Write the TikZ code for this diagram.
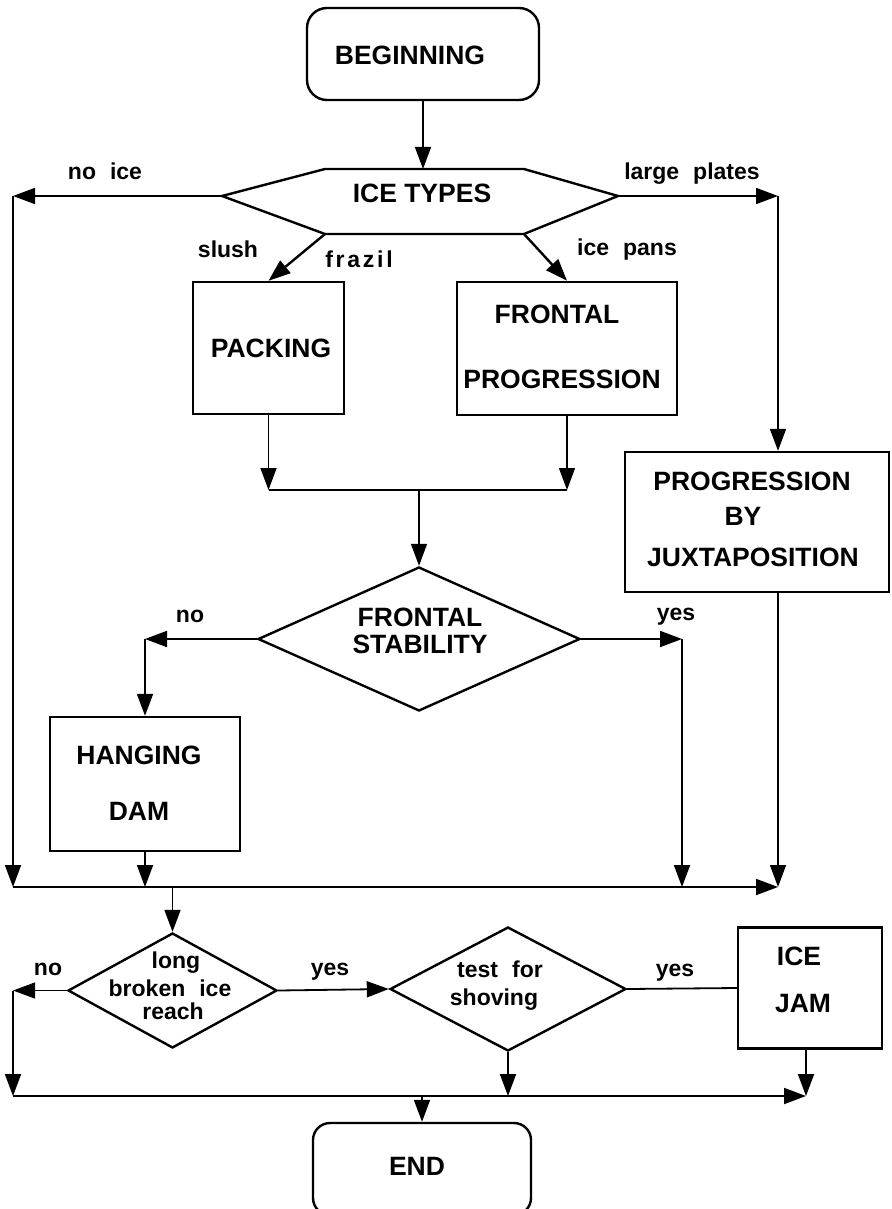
\documentclass[tikz,border=0pt]{standalone}
\usepackage{fontspec}
\setmainfont{Liberation Sans}
\usetikzlibrary{arrows.meta,shapes.geometric}
\newcommand\labfont{\fontsize{23}{27}\selectfont\bfseries\spaceskip 14pt\relax}
\begin{document}
\begin{tikzpicture}[x=1pt,y=-1pt,
  shapeline/.style={line width=2.4pt, line join=miter},
  boxshape/.style={draw, line width=2.4pt, inner sep=0pt},
  roundbox/.style={boxshape, rounded corners=20pt},
  dia/.style={draw, diamond, line width=2.4pt, inner sep=0pt},
  captxt/.style={font=\fontsize{26.5}{30}\selectfont\bfseries, anchor=base, inner sep=0pt},
  lab/.style={font=\labfont, anchor=base, inner sep=0pt},
  conn/.style={line width=1.8pt, -{Triangle[length=22pt,width=16pt]}},
  plain/.style={line width=1.8pt}]
\useasboundingbox (0,0) rectangle (891,1209);

% ---- shapes ----
\node[roundbox, minimum width=232pt, minimum height=92pt] (begin) at (423,54) {};
\node[captxt] (begintxt) at (410,65) {BEGINNING};

\coordinate (hL) at (222,196);
\coordinate (hTL) at (325,169);
\coordinate (hTR) at (524,169);
\coordinate (hR) at (618,196);
\coordinate (hBR) at (524,234);
\coordinate (hBL) at (325,234);
\coordinate (hT) at (423,169);
\draw[shapeline] (hL) -- (hTL) -- (hTR) -- (hR) -- (hBR) -- (hBL) -- cycle;
\node[captxt] (types) at (422,202) {ICE TYPES};

\node[boxshape, minimum width=151pt, minimum height=132pt] (pack) at (268.5,348) {};
\node[captxt] (packtxt) at (271,357) {PACKING};

\node[boxshape, minimum width=220pt, minimum height=133pt] (fp) at (567,348.5) {};
\node[captxt] (fptxt1) at (557,323) {FRONTAL};
\node[captxt] (fptxt2) at (562,388) {PROGRESSION};

\node[boxshape, minimum width=264pt, minimum height=140pt] (juxt) at (757,522) {};
\node[captxt] (juxttxt1) at (752,490) {PROGRESSION};
\node[captxt] (juxttxt2) at (743,525) {BY};
\node[captxt] (juxttxt3) at (753,566) {JUXTAPOSITION};

\node[dia, minimum width=322pt, minimum height=144pt] (fs) at (419,639) {};
\node[captxt] (fstxt1) at (420,626) {FRONTAL};
\node[captxt] (fstxt2) at (420,653) {STABILITY};

\node[boxshape, minimum width=190pt, minimum height=134pt] (hang) at (145,784) {};
\node[captxt] (hangtxt1) at (139,764) {HANGING};
\node[captxt] (hangtxt2) at (139,820) {DAM};

\node[dia, minimum width=209pt, minimum height=115pt] (d1) at (172.5,990.5) {};
\node[lab] (d1txt1) at (176,968) {long};
\node[lab] (d1txt2) at (170,996) {broken ice};
\node[lab] (d1txt3) at (173,1019) {reach};

\node[dia, minimum width=236pt, minimum height=124pt] (d2) at (508,989) {};
\node[lab] (d2txt1) at (500,977) {test for};
\node[lab] (d2txt2) at (494,1005) {shoving};

\node[boxshape, minimum width=144pt, minimum height=121pt] (jam) at (810,988) {};
\node[captxt] (jamtxt1) at (799,965) {ICE};
\node[captxt] (jamtxt2) at (803,1012) {JAM};

\node[roundbox, rounded corners=17pt, minimum width=218pt, minimum height=92pt] (endn) at (422,1169) {};
\node[captxt] (endtxt) at (417,1175) {END};

% ---- labels ----
\node[lab] (lnoice) at (105,180) {no ice};
\node[lab] (llp) at (692,180) {large plates};
\node[lab] (lslush) at (228,257) {slush};
\node[lab] (lfrazil) at (359,267) {\addfontfeature{LetterSpace=12}frazil};
\node[lab] (licepans) at (627,255) {ice pans};
\node[lab] (lnofs) at (190,622) {no};
\node[lab] (lyesfs) at (676,620) {yes};
\node[lab] (lnod1) at (48,975) {no};
\node[lab] (lyes1) at (330,975) {yes};
\node[lab] (lyes2) at (675,976) {yes};

% ---- connector points ----
\coordinate (noiceEnd) at (13,196);
\coordinate (leftBot) at (13,887);
\coordinate (lpEnd) at (778,196);
\coordinate (m1R) at (778,887);
\coordinate (m0) at (268.5,490);
\coordinate (fsYes) at (682,639);
\coordinate (m2L) at (13,1096);
\coordinate (m2R) at (806,1096);

% ---- connectors ----
\draw[conn, line width=1.4pt] (begin.south) -- (begin.south |- hT);
\draw[conn] (hL) -- (noiceEnd);
\draw[conn] (noiceEnd) -- (leftBot);
\draw[conn] (hR) -- (lpEnd);
\draw[conn] (lpEnd) -- (lpEnd |- juxt.north);
\draw[conn, line width=2.4pt] (hBL) -- (pack.north);
\draw[conn, line width=2.4pt] (hBR) -- (fp.north);
\draw[conn] (pack.south) -- (pack.south |- m0);
\draw[conn, line width=1.4pt] (fp.south) -- (fp.south |- m0);
\draw[plain] (pack.south |- m0) -- (fp.south |- m0);
\draw[conn, line width=1.4pt] (fs.north |- m0) -- (fs.north);
\draw[conn] (fs.west) -- (hang.north |- fs.west);
\draw[conn] (hang.north |- fs.west) -- (hang.north);
\draw[conn] (fs.east) -- (fsYes);
\draw[conn] (fsYes) -- (fsYes |- leftBot);
\draw[conn] (hang.south) -- (hang.south |- leftBot);
\draw[conn, line width=1.4pt] (lpEnd |- juxt.south) -- (m1R);
\draw[conn] (leftBot) -- (m1R);
\draw[conn] (d1.north |- leftBot) -- (d1.north);
\draw[conn, line width=1pt] (d1.west) -- (leftBot |- d1.west);
\draw[conn] (leftBot |- d1.west) -- (m2L);
\draw[conn] (d1.east) -- (d2.west);
\draw[plain] (d2.east) -- (jam.west);
\draw[conn] (d2.south) -- (d2.south |- m2L);
\draw[conn] (m2R |- jam.south) -- (m2R);
\draw[conn] (m2L) -- (m2R);
\draw[conn] (endn.north |- m2L) -- (endn.north);
\end{tikzpicture}
\end{document}
